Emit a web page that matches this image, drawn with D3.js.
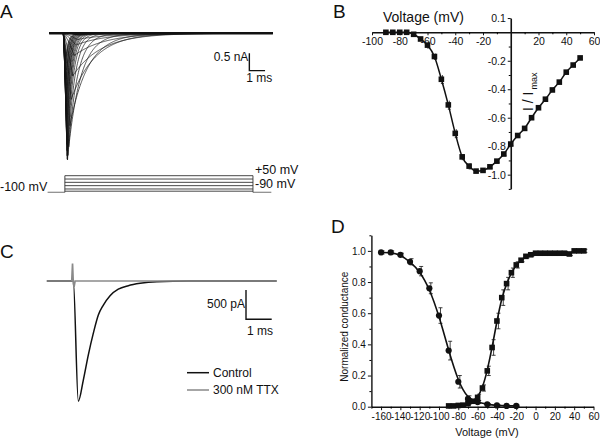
<!DOCTYPE html>
<html><head><meta charset="utf-8">
<script src="https://cdn.jsdelivr.net/npm/d3@7"></script>
<style>
body{margin:0;background:#fff}
svg{display:block}
text{font-family:"Liberation Sans",Arial,Helvetica,sans-serif;fill:#111}
</style>
</head><body>
<svg id="fig" width="600" height="439"></svg>
<script>
// ---------- DATA ----------
// Panel A: family of Na+ currents, one per test potential (mV)
const aSteps = [-70,-65,-60,-55,-50,-45,-40,-35,-30,-25,-20,-15,-10,-5,0,5,10,15,20,25,30,35,40,45,50];
const aPeak  = [0.05,0.18,0.34,0.64,1.23,1.91,2.66,3.27,3.52,3.65,3.63,3.53,3.38,3.20,2.94,2.71,2.52,2.24,1.98,1.76,1.51,1.31,1.05,0.86,0.67]; // nA
const aTpk   = [1.0,0.9,0.8,0.7,0.6,0.5,0.42,0.35,0.3,0.27,0.25,0.24,0.23,0.22,0.21,0.2,0.2,0.19,0.19,0.18,0.18,0.18,0.17,0.17,0.17]; // ms
const aTau   = [2.0,2.0,1.9,1.9,1.8,1.5,1.15,0.8,0.58,0.44,0.36,0.31,0.28,0.26,0.24,0.23,0.22,0.21,0.2,0.19,0.18,0.18,0.17,0.17,0.16]; // ms
const protocolSteps = [50,20,-10,-40,-70,-90]; // mV
const holding = -100;

// Panel B: normalized I-V
const bVolt = [-90,-85,-80,-75,-70,-65,-60,-55,-50,-45,-40,-35,-30,-25,-20,-15,-10,-5,0,5,10,15,20,25,30,35,40,45,50];
const bCurrent = [0,0,0,0,-0.014,-0.047,-0.09,-0.17,-0.33,-0.51,-0.71,-0.875,-0.94,-0.975,-0.97,-0.945,-0.905,-0.855,-0.785,-0.725,-0.675,-0.60,-0.53,-0.47,-0.405,-0.35,-0.28,-0.23,-0.18];
const bErr = [0.005,0.005,0.005,0.005,0.01,0.01,0.02,0.02,0.03,0.03,0.03,0.02,0.02,0.01,0.01,0.01,0.01,0.01,0.01,0.01,0.01,0.01,0.01,0.01,0.01,0.01,0.01,0.01,0.01];
const bXTicks = [-100,-80,-60,-40,-20,20,40,60];
const bYTicks = [-1.0,-0.8,-0.6,-0.4,-0.2,0.1];

// Panel C: control vs TTX
const cTime    = [-1.03,0,0.195,0.39,0.585,0.78,0.974,1.17,1.43,1.75,2.14,2.6,3.25,4.5,7.91];
const cControl = [0,0,-2.05,-1.69,-1.26,-0.89,-0.58,-0.41,-0.25,-0.14,-0.08,-0.04,-0.012,0,0];
const cTtxTime = [-1.03,-0.06,-0.03,0,0.03,0.07,7.91];
const cTtx     = [0,0,0.3,-0.04,-0.1,0,0];
const cLegend  = ["Control","300 nM TTX"];

// Panel D: activation (squares) / steady-state inactivation (circles)
const dActV = [-90,-85,-80,-75,-70,-65,-60,-55,-50,-45,-40,-35,-30,-25,-20,-15,-10,-5,0,5,10,15,20,25,30,35,40,45,50];
const dAct  = [0.005,0.005,0.008,0.01,0.02,0.035,0.06,0.12,0.23,0.38,0.55,0.70,0.79,0.86,0.91,0.94,0.965,0.975,0.985,0.985,0.985,0.985,0.985,0.985,0.985,0.98,1.0,1.0,1.0];
const dActErr = [0.005,0.005,0.005,0.005,0.005,0.01,0.02,0.02,0.03,0.05,0.05,0.05,0.04,0.03,0.02,0.01,0.01,0.01,0.01,0.01,0.01,0.01,0.01,0.01,0.01,0.01,0.01,0.01,0.01];
const dInactV = [-160,-150,-140,-130,-120,-110,-100,-90,-80,-70,-60,-50,-40,-30,-20];
const dInact  = [0.99,0.99,0.975,0.93,0.87,0.76,0.585,0.36,0.16,0.05,0.03,0.015,0.008,0.005,0.005];
const dInactErr = [0.01,0.01,0.01,0.02,0.03,0.035,0.05,0.06,0.04,0.02,0.01,0.005,0.005,0.005,0.005];
const dXTicks = [-160,-140,-120,-100,-80,-60,-40,-20,0,20,40,60];
const dXMinor = [-170,-150,-130,-110,-90,-70,-50,-30,-10,10,30,50];
const dYTicks = [0,0.2,0.4,0.6,0.8,1.0];
const dYMinor = [0.1,0.3,0.5,0.7,0.9,1.1];

// ---------- DRAW ----------
const svg = d3.select("#fig");
const fmt1 = d => d.toFixed(1);
const fmt0 = d => String(d);

function panelLabel(t,x,y){
  svg.append("text").attr("x",x).attr("y",y).attr("font-size",19).text(t);
}

// ===== Panel A =====
panelLabel("A",0,18);
const xA = d3.scaleLinear().domain([0,1]).range([63.3,79.0]);
const yA = d3.scaleLinear().domain([0,-1]).range([33.3,68.0]);
const gA = svg.append("g");
const lineA = d3.line().x(d=>xA(d[0])).y(d=>yA(d[1]));
const grid = d3.range(-0.9,13.36,0.03);
aSteps.forEach((v,i)=>{
  const A=aPeak[i], tp=aTpk[i], tau=aTau[i];
  const ts = grid.concat([0,tp]).sort((a,b)=>a-b);
  const pts = ts.map(t=>[t, t<=0?0 : (t<=tp ? -A*Math.pow(t/tp,1.3) : -A*Math.exp(-(t-tp)/tau))]);
  gA.append("path").attr("d",lineA(pts)).attr("fill","none").attr("stroke","#111").attr("stroke-width",0.7);
});
gA.append("path").attr("d",lineA([[-0.9,0],[13.35,0]])).attr("stroke","#111").attr("stroke-width",2.6).attr("fill","none");
// scale bar
const sbA = {t:11.85, i:-1.076};
gA.append("path").attr("d",lineA([[sbA.t,sbA.i+0.5],[sbA.t,sbA.i],[sbA.t+1,sbA.i]]))
  .attr("fill","none").attr("stroke","#111").attr("stroke-width",1.4);
gA.append("text").attr("x",xA(sbA.t)-1).attr("y",61).attr("text-anchor","end").attr("font-size",12).text("0.5 nA");
gA.append("text").attr("x",xA(sbA.t)-3).attr("y",81.5).attr("font-size",12).text("1 ms");

// voltage protocol
const yV = d3.scaleLinear().domain([-100,50]).range([192.3,175.7]);
const lineV = d3.line().x(d=>xA(d[0])).y(d=>yV(d[1]));
const tOn = 0.1, tOff = 12.08;
gA.append("path").attr("d",lineV([[-1,holding],[tOn,holding]])).attr("stroke","#888").attr("stroke-width",1.2).attr("fill","none");
gA.append("path").attr("d",lineV([[tOff,holding],[13.25,holding]])).attr("stroke","#888").attr("stroke-width",1.2).attr("fill","none");
gA.append("path").attr("d",lineV([[tOn,holding],[tOn,50]])).attr("stroke","#333").attr("stroke-width",0.9).attr("fill","none");
gA.append("path").attr("d",lineV([[tOff,holding],[tOff,50]])).attr("stroke","#333").attr("stroke-width",0.9).attr("fill","none");
protocolSteps.forEach(v=>{
  gA.append("path").attr("d",lineV([[tOn,v],[tOff,v]])).attr("stroke","#333").attr("stroke-width",0.9).attr("fill","none");
});
gA.append("text").attr("x",0).attr("y",191).attr("font-size",12.5).text("-100 mV");
gA.append("text").attr("x",255).attr("y",174).attr("font-size",12.5).text("+50 mV");
gA.append("text").attr("x",255).attr("y",187.5).attr("font-size",12.5).text("-90 mV");

// ===== Panel B =====
panelLabel("B",333,18);
const xB = d3.scaleLinear().domain([-100,60]).range([372,594]);
const yB = d3.scaleLinear().domain([0.1,-1.1]).range([18.06,188.9]);
const gB = svg.append("g");
const gBx = gB.append("g").attr("transform",`translate(0,${yB(0)})`)
  .call(d3.axisBottom(xB).tickValues(bXTicks).tickFormat(fmt0).tickSize(3).tickSizeOuter(0).tickPadding(2));
gB.append("g").attr("transform",`translate(0,${yB(0)})`)
  .call(d3.axisBottom(xB).tickValues([-90,-70,-50,-30,-10,10,30,50]).tickFormat("").tickSize(2).tickSizeOuter(0))
  .select(".domain").remove();
const gBy = gB.append("g").attr("transform",`translate(${xB(0)},0)`)
  .call(d3.axisLeft(yB).tickValues(bYTicks).tickFormat(fmt1).tickSize(3).tickSizeOuter(0).tickPadding(2));
gB.append("g").attr("transform",`translate(${xB(0)},0)`)
  .call(d3.axisLeft(yB).tickValues([-1.1,-0.9,-0.7,-0.5,-0.3,-0.1]).tickFormat("").tickSize(2).tickSizeOuter(0))
  .select(".domain").remove();
[gBx,gBy].forEach(g=>{g.selectAll("text").attr("font-size",10.5).attr("font-family","Liberation Sans, Arial, sans-serif").attr("fill","#222");
  g.selectAll("line,path").attr("stroke","#111");});
gBx.select(".domain").attr("stroke-width",1.6);
gBy.select(".domain").attr("stroke-width",1.6);
gB.append("text").attr("x",383).attr("y",21.5).attr("font-size",14).text("Voltage (mV)");
const iLab = gB.append("text").attr("transform","translate(533,111) rotate(-90)").attr("font-size",14);
iLab.append("tspan").text("I / I");
iLab.append("tspan").attr("font-size",9).attr("dy",4).attr("dx",2).text("max");

const bPts = bVolt.map((v,i)=>({v, y:bCurrent[i], e:bErr[i]}));
gB.append("path").attr("d",d3.line().x(d=>xB(d.v)).y(d=>yB(d.y)).curve(d3.curveMonotoneX)(bPts))
  .attr("fill","none").attr("stroke","#111").attr("stroke-width",1.5);
gB.selectAll(".eb").data(bPts).join("path")
  .attr("d",d=>{const x=xB(d.v)+1,y1=yB(d.y-d.e),y2=yB(d.y+d.e);return `M${x},${y1}V${y2}M${x-1.5},${y1}H${x+1.5}`;})
  .attr("stroke","#111").attr("stroke-width",0.8).attr("fill","none");
gB.selectAll(".sq").data(bPts).join("rect")
  .attr("x",d=>xB(d.v)-2.8).attr("y",d=>yB(d.y)-2.8).attr("width",5.6).attr("height",5.6).attr("fill","#111");

// ===== Panel C =====
panelLabel("C",0,258);
const xC = d3.scaleLinear().domain([0,1]).range([73.3,99.0]);
const yC = d3.scaleLinear().domain([0,-1]).range([281,339.6]);
const gC = svg.append("g");
const lineC = d3.line().x(d=>xC(d[0])).y(d=>yC(d[1]));
gC.append("path").attr("d",lineC.curve(d3.curveMonotoneX)(cTime.map((t,i)=>[t,cControl[i]])))
  .attr("fill","none").attr("stroke","#111").attr("stroke-width",1.5);
lineC.curve(d3.curveLinear);
gC.append("path").attr("d",lineC(cTtxTime.map((t,i)=>[t,cTtx[i]])))
  .attr("fill","none").attr("stroke","#8a8a8a").attr("stroke-width",1.7);
const sbC = {t:6.72, i:-0.654};
gC.append("path").attr("d",lineC([[sbC.t,sbC.i+0.5],[sbC.t,sbC.i],[sbC.t+1,sbC.i]]))
  .attr("fill","none").attr("stroke","#111").attr("stroke-width",1.4);
gC.append("text").attr("x",xC(sbC.t)-1).attr("y",308).attr("text-anchor","end").attr("font-size",12).text("500 pA");
gC.append("text").attr("x",xC(sbC.t)+1).attr("y",335).attr("font-size",12).text("1 ms");
const legCol = ["#111","#888"];
cLegend.forEach((name,i)=>{
  const y = 372.7 + i*17.3;
  gC.append("line").attr("x1",187).attr("x2",209).attr("y1",y).attr("y2",y).attr("stroke",legCol[i]).attr("stroke-width",1.5);
  gC.append("text").attr("x",213).attr("y",y+4).attr("font-size",12).text(name);
});

// ===== Panel D =====
panelLabel("D",331,233);
const xD = d3.scaleLinear().domain([-170,60]).range([371.4,593.5]);
const yD = d3.scaleLinear().domain([0,1.1]).range([406.7,235.3]);
const gD = svg.append("g");
const gDx = gD.append("g").attr("transform",`translate(0,${yD(0)})`)
  .call(d3.axisBottom(xD).tickValues(dXTicks).tickFormat(fmt0).tickSize(3.5).tickSizeOuter(0).tickPadding(3));
gD.append("g").attr("transform",`translate(0,${yD(0)})`)
  .call(d3.axisBottom(xD).tickValues(dXMinor).tickFormat("").tickSize(2).tickSizeOuter(0)).select(".domain").remove();
const gDy = gD.append("g").attr("transform",`translate(${xD(-170)},0)`)
  .call(d3.axisLeft(yD).tickValues(dYTicks).tickFormat(fmt1).tickSize(3.5).tickSizeOuter(0).tickPadding(2));
gD.append("g").attr("transform",`translate(${xD(-170)},0)`)
  .call(d3.axisLeft(yD).tickValues(dYMinor).tickFormat("").tickSize(2).tickSizeOuter(0)).select(".domain").remove();
[gDx,gDy].forEach(g=>{g.selectAll("text").attr("font-size",10).attr("font-family","Liberation Sans, Arial, sans-serif").attr("fill","#333");
  g.selectAll("line,path").attr("stroke","#111");});
gDx.select(".domain").attr("stroke-width",1.4);
gDy.select(".domain").attr("stroke-width",1.4);
gD.append("text").attr("x",487).attr("y",436).attr("text-anchor","middle").attr("font-size",11).attr("fill","#222").text("Voltage (mV)");
gD.append("text").attr("transform","translate(348,326.7) rotate(-90)").attr("text-anchor","middle").attr("font-size",10).attr("fill","#222").text("Normalized conductance");

const actPts = dActV.map((v,i)=>({v,y:dAct[i],e:dActErr[i]}));
const inPts = dInactV.map((v,i)=>({v,y:dInact[i],e:dInactErr[i]}));
const lineD = d3.line().x(d=>xD(d.v)).y(d=>yD(d.y)).curve(d3.curveBasis);
gD.append("path").attr("d",lineD(inPts)).attr("fill","none").attr("stroke","#111").attr("stroke-width",1.6);
gD.append("path").attr("d",lineD(actPts)).attr("fill","none").attr("stroke","#111").attr("stroke-width",1.6);
function errBars(pts){
  gD.append("g").selectAll("path").data(pts).join("path")
    .attr("d",d=>{const x=xD(d.v)+1.5,y1=yD(d.y+d.e),y2=yD(d.y-d.e);return `M${x},${y1}V${y2}M${x-2},${y1}H${x+2}M${x-2},${y2}H${x+2}`;})
    .attr("stroke","#111").attr("stroke-width",0.8).attr("fill","none");
}
errBars(inPts); errBars(actPts);
gD.append("g").selectAll("rect").data(actPts).join("rect")
  .attr("x",d=>xD(d.v)-2.8).attr("y",d=>yD(d.y)-2.8).attr("width",5.6).attr("height",5.6).attr("fill","#111");
gD.append("g").selectAll("circle").data(inPts).join("circle")
  .attr("cx",d=>xD(d.v)).attr("cy",d=>yD(d.y)).attr("r",3.1).attr("fill","#111");
</script>
</body></html>
